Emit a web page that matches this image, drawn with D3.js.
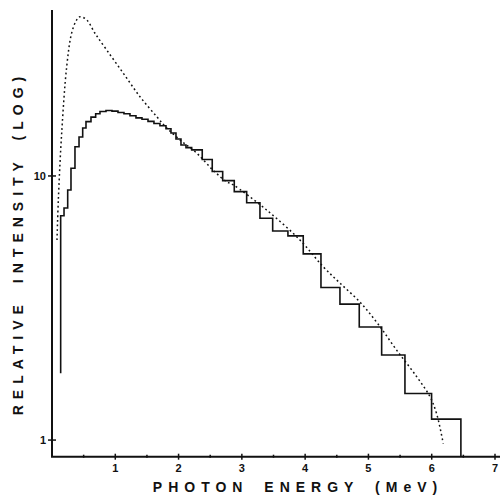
<html>
<head>
<script src="https://d3js.org/d3.v7.min.js"></script>
<style>
  body { margin: 0; background: white; }
  .axis-line { stroke: #111; stroke-width: 2px; fill: none; }
  .tick-text { font-family: "Liberation Sans", Arial, sans-serif; font-weight: bold; font-size: 11px; fill: #111; }
  .title { font-family: "Liberation Sans", Arial, sans-serif; font-weight: bold; font-size: 14px; fill: #111; letter-spacing: 6px; word-spacing: 6px; }
</style>
</head>
<body>
<svg id="chart" width="500" height="496"></svg>
<script>
  // histogram (measured spectrum): bin edges in MeV, intensities per bin
  const binEdges = [0.137, 0.190, 0.248, 0.300, 0.363, 0.427, 0.485, 0.537, 0.616, 0.690,
                    0.758, 0.853, 0.948, 1.043, 1.137, 1.232, 1.327, 1.422, 1.517, 1.611,
                    1.706, 1.801, 1.880, 1.959, 2.038, 2.117, 2.207, 2.374, 2.532, 2.697,
                    2.880, 3.076, 3.286, 3.487, 3.728, 3.970, 4.250, 4.550, 4.855, 5.209,
                    5.577, 5.998, 6.461];
  const binValues = [7.07, 7.56, 8.85, 10.7, 12.9, 14.05, 15.2, 16.06, 16.7, 17.2,
                     17.55, 17.7, 17.6, 17.4, 17.2, 16.9, 16.6, 16.4, 16.1, 15.8,
                     15.5, 15.1, 14.55, 13.8, 13.1, 12.8, 12.55, 11.55, 10.4, 9.6,
                     8.72, 7.92, 6.92, 6.19, 5.93, 5.07, 3.78, 3.27, 2.68, 2.10,
                     1.50, 1.20];
  const startIntensity = 1.79;

  // dotted curve (calculated spectrum)
  const curveEnergy = [0.079, 0.100, 0.153, 0.232, 0.311, 0.390, 0.442, 0.548, 0.679, 0.864,
                       1.126, 1.390, 1.654, 1.812, 2.022, 2.286, 2.548, 2.760, 2.864, 3.392,
                       3.918, 4.286, 4.550, 4.866, 5.152, 5.446, 5.761, 5.972, 6.077, 6.182];
  const curveIntensity = [5.72, 8.11, 14.55, 25.9, 34.8, 39.0, 40.1, 39.0, 34.7, 30.0,
                          24.5, 19.96, 16.78, 15.2, 13.7, 12.2, 10.5, 9.51, 9.25, 7.43,
                          5.72, 4.53, 3.93, 3.33, 2.75, 2.19, 1.74, 1.46, 1.26, 0.97];

  const xTicks = [1, 2, 3, 4, 5, 6, 7];
  const xMinorTicks = [0.5, 1.5, 2.5, 3.5, 4.5, 5.5, 6.5];
  const yTicks = [1, 10];

  const svg = d3.select("#chart");
  const x = d3.scaleLinear().domain([0, 7]).range([52, 495]);
  const y = d3.scaleLog().domain([0.865, 42.5]).range([456.7, 10]);

  // axes
  svg.append("path").attr("class", "axis-line")
     .attr("d", "M" + x(0) + "," + y(y.domain()[1]) + "V" + y(y.domain()[0]) + "H500");

  svg.selectAll("line.xtick").data(xTicks).join("line")
     .attr("class", "xtick")
     .attr("x1", d => x(d)).attr("x2", d => x(d))
     .attr("y1", y(y.domain()[0]) - 3).attr("y2", y(y.domain()[0]) + 3)
     .attr("stroke", "#111").attr("stroke-width", 1.5);
  svg.selectAll("line.xminor").data(xMinorTicks).join("line")
     .attr("class", "xminor")
     .attr("x1", d => x(d)).attr("x2", d => x(d))
     .attr("y1", y(y.domain()[0]) - 2).attr("y2", y(y.domain()[0]) + 1)
     .attr("stroke", "#111").attr("stroke-width", 1.5);
  svg.selectAll("text.xlab").data(xTicks).join("text")
     .attr("class", "tick-text xlab")
     .attr("x", d => x(d)).attr("y", 472)
     .attr("text-anchor", "middle")
     .text(d => d);

  svg.selectAll("line.ytick").data(yTicks).join("line")
     .attr("class", "ytick")
     .attr("x1", x(0) - 4).attr("x2", x(0) + 4)
     .attr("y1", d => y(d)).attr("y2", d => y(d))
     .attr("stroke", "#111").attr("stroke-width", 1.5);
  svg.selectAll("text.ylab").data(yTicks).join("text")
     .attr("class", "tick-text ylab")
     .attr("x", x(0) - 6).attr("y", d => y(d) + 4)
     .attr("text-anchor", "end")
     .text(d => d);

  // histogram
  const histPts = [[binEdges[0], startIntensity]];
  binValues.forEach((v, i) => {
    histPts.push([binEdges[i], v]);
    histPts.push([binEdges[i + 1], v]);
  });
  histPts.push([binEdges[binEdges.length - 1], y.domain()[0]]);

  const line = d3.line().x(d => x(d[0])).y(d => y(d[1]));
  svg.append("path")
     .attr("d", line(histPts))
     .attr("fill", "none").attr("stroke", "#111").attr("stroke-width", 1.6);

  // dotted curve
  const curvePts = curveEnergy.map((e, i) => [e, curveIntensity[i]]);
  svg.append("path")
     .attr("d", line.curve(d3.curveCatmullRom)(curvePts))
     .attr("fill", "none").attr("stroke", "#111").attr("stroke-width", 1.5)
     .attr("stroke-dasharray", "1.8,2.8");

  // titles
  svg.append("text").attr("class", "title")
     .attr("x", 298).attr("y", 492).attr("text-anchor", "middle")
     .text("PHOTON ENERGY (MeV)");
  svg.append("text").attr("class", "title")
     .attr("transform", "translate(23,243) rotate(-90)")
     .attr("text-anchor", "middle")
     .text("RELATIVE INTENSITY (LOG)");
</script>
</body>
</html>
